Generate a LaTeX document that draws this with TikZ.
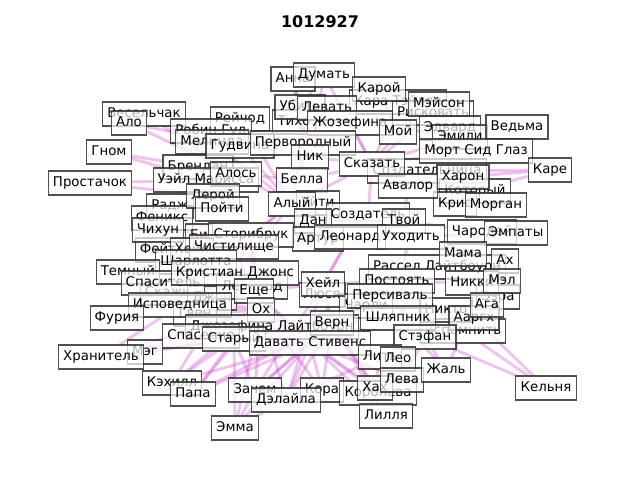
\documentclass[tikz,border=0pt]{standalone}
\usepackage{fontspec}
\setmainfont{DejaVu Sans}
\usetikzlibrary{backgrounds}
\definecolor{edgec}{RGB}{200,60,200}
\definecolor{boxc}{RGB}{50,50,50}
\begin{document}
\begin{tikzpicture}[x=0.75pt,y=-0.75pt,
  lbl/.style={draw=boxc,draw opacity=0.85,fill=white,fill opacity=0.7,text opacity=1,
    font=\fontsize{10}{12}\selectfont,inner xsep=3.5pt,inner ysep=4pt,
    text height=7.6pt,text depth=2.4pt,line width=0.8pt},
  edg/.style={draw=edgec,draw opacity=0.3,line width=2.2pt}]
\useasboundingbox (0,0) rectangle (640,480);
\node[font=\bfseries\fontsize{12}{14}\selectfont] (title) at (320,22) {1012927};
% ---- under layer ----
\node[lbl] (kara) at (398,102) {Кара Тэйлор};
\node[lbl] (risk) at (433,113) {Рисковать};
\node[lbl] (tiho) at (294,122) {Тихо};
\node[lbl] (edvard) at (450,128) {Эдвард};
\node[lbl] (sozd) at (427,171) {Создательница};
\node[lbl] (kotor) at (475,191) {Который};
\node[lbl] (kris) at (455,204) {Крис};
\node[lbl] (brendan) at (198,167) {Брендан};
\node[lbl] (radzh) at (170,206) {Радж};
\node[lbl] (feniks) at (162,218) {Феникс};
\node[lbl] (rassel) at (437,267) {Рассел Лайтбоурн};
\node[lbl] (lyusya) at (322,295) {Люся};
\node[lbl] (charli) at (366,306) {Чарли};
\node[lbl] (ezra) at (498,297) {Эзра};
\node[lbl] (vspom) at (463,331) {Вспомнить};
\node[lbl] (skazhi) at (168,293) {Скажи};
\node[lbl] (dzhon) at (212,298) {Джон};
\node[lbl] (leonard2) at (252,287) {Леонард};
\node[lbl] (gven) at (195,314) {Гвен};
\node[lbl] (kora) at (322,390) {Кора};
% ---- top layer ----
\node[lbl] (anna) at (293,79) {Анна};
\node[lbl] (dumat) at (324,75) {Думать};
\node[lbl] (karoy) at (379,89) {Карой};
\node[lbl] (meyson) at (439,104) {Мэйсон};
\node[lbl] (vesel) at (144,114) {Весельчак};
\node[lbl] (alo) at (129,123) {Ало};
\node[lbl] (reychod) at (240,119) {Рейчод};
\node[lbl] (ubit) at (300,107) {Убить};
\node[lbl] (levat) at (327,108) {Левать};
\node[lbl] (zhozefin) at (350,123) {Жозефина};
\node[lbl] (robin) at (211,131) {Робин Гуд};
\node[lbl] (mel) at (212,142) {Мелинда};
\node[lbl] (gudvina) at (240,146) {Гудвина};
\node[lbl] (pervo) at (303,143) {Первородный};
\node[lbl] (nik) at (310,157) {Ник};
\node[lbl] (moy) at (398,132) {Мой};
\node[lbl] (emili) at (460,137) {Эмили};
\node[lbl] (vedma) at (517,127) {Ведьма};
\node[lbl] (mort) at (476,151) {Морт Сид Глаз};
\node[lbl] (kare) at (550,170) {Каре};
\node[lbl] (skazat) at (372,164) {Сказать};
\node[lbl] (haron) at (463,177) {Харон};
\node[lbl] (avalor) at (408,186) {Авалор};
\node[lbl] (morgan) at (496,205) {Морган};
\node[lbl] (gnom) at (109,152) {Гном};
\node[lbl] (prostachok) at (90,183) {Простачок};
\node[lbl] (ueyl) at (206,180) {Уэйл Марисса};
\node[lbl] (bella) at (302,180) {Белла};
\node[lbl] (alos) at (236,174) {Алось};
\node[lbl] (leroy) at (213,196) {Лерой};
\node[lbl] (poyti) at (222,209) {Пойти};
\node[lbl] (uyti) at (318,203) {Уйти};
\node[lbl] (alyy) at (292,204) {Алый};
\node[lbl] (sozdat) at (368,215) {Создатель};
\node[lbl] (tvoy) at (404,221) {Твой};
\node[lbl] (dan) at (313,221) {Дан};
\node[lbl] (ar) at (318,239) {Артур};
\node[lbl] (leonar) at (350,237) {Леонард};
\node[lbl] (uhodit) at (411,237) {Уходить};
\node[lbl] (charo) at (482,232) {Чародей};
\node[lbl] (empaty) at (516,233) {Эмпаты};
\node[lbl] (mama) at (463,254) {Мама};
\node[lbl] (ah) at (505,261) {Ах};
\node[lbl] (nikki) at (472,283) {Никки};
\node[lbl] (melb) at (502,281) {Мэл};
\node[lbl] (ni) at (446,310) {Никто};
\node[lbl] (aargh) at (474,318) {Ааргх};
\node[lbl] (aga) at (487,305) {Ага};
\node[lbl] (postoyat) at (397,281) {Постоять};
\node[lbl] (persival) at (390,296) {Персиваль};
\node[lbl] (heyl2) at (323,284) {Хейл};
\node[lbl] (shlyapnik) at (398,318) {Шляпник};
\node[lbl] (feyt) at (158,250) {Фейт};
\node[lbl] (chihun) at (158,230) {Чихун};
\node[lbl] (bi) at (199,236) {Би};
\node[lbl] (storibruk) at (251,235) {Сторибрук};
\node[lbl] (heyl) at (192,250) {Хейл};
\node[lbl] (chistilishe) at (234,247) {Чистилище};
\node[lbl] (sharlotta) at (196,262) {Шарлотта};
\node[lbl] (temny) at (128,272) {Темный};
\node[lbl] (spasitel) at (163,283) {Спаситель};
\node[lbl] (kristian) at (235,273) {Кристиан Джонс};
\node[lbl] (esche) at (254,291) {Еще};
\node[lbl] (ispov) at (180,305) {Исповедница};
\node[lbl] (furiya) at (117,318) {Фурия};
\node[lbl] (oh) at (261,310) {Ох};
\node[lbl] (dzhoz) at (272,327) {Джозефина Лайтбоурн};
\node[lbl] (spa) at (201,336) {Спасение};
\node[lbl] (vern) at (332,323) {Верн};
\node[lbl] (stefan) at (425,337) {Стэфан};
\node[lbl] (stary) at (234,339) {Старый};
\node[lbl] (davat) at (310,343) {Давать Стивенс};
\node[lbl] (lit) at (380,357) {Лить};
\node[lbl] (leo) at (398,359) {Лео};
\node[lbl] (meg) at (145,352) {Мэг};
\node[lbl] (hranitel) at (101,357) {Хранитель};
\node[lbl] (kehill) at (172,383) {Кэхилл};
\node[lbl] (papa) at (193,394) {Папа};
\node[lbl] (zachem) at (255,390) {Зачем};
\node[lbl] (delayla) at (286,400) {Дэлайла};
\node[lbl] (koroleva) at (378,393) {Королева};
\node[lbl] (hah) at (375,388) {Хах};
\node[lbl] (leva) at (402,380) {Лева};
\node[lbl] (zhal) at (446,370) {Жаль};
\node[lbl] (lillya) at (386,416) {Лилля};
\node[lbl] (emma) at (235,428) {Эмма};
\node[lbl] (kelnya) at (546,388) {Кельня};
% ---- edges ----
\begin{pgfonlayer}{background}
\foreach \a/\b in {alo/gudvina,vesel/alos,gnom/ueyl,prostachok/leroy,hranitel/ispov,hranitel/spa,
  furiya/ispov,meg/stary,kehill/stary,kehill/davat,papa/stary,papa/davat,emma/zachem,emma/davat,
  zachem/davat,delayla/davat,delayla/vern,kora/davat,leva/stefan,hah/davat,lillya/lit,zhal/stefan,
  kelnya/vspom,kare/haron,kare/sozd,vedma/moy,vedma/mort,anna/pervo,anna/nik,dumat/skazat,dumat/ubit,
  karoy/moy,kara/skazat,levat/nik,reychod/gudvina,robin/alos,mel/alyy,temny/kristian,spasitel/kristian,
  chihun/storibruk,feyt/sharlotta,heyl/chistilishe,storibruk/alyy,storibruk/dan,alyy/skazat,
  skazat/sozdat,sozdat/tvoy,tvoy/uhodit,leonar/heyl2,uhodit/postoyat,postoyat/persival,persival/vern,
  vern/davat,davat/oh,oh/esche,esche/kristian,kristian/heyl2,heyl2/postoyat,mama/postoyat,ah/uhodit,
  melb/nikki,aga/ni,aargh/stefan,ni/shlyapnik,shlyapnik/davat,stefan/lit,lit/davat,charo/tvoy,
  empaty/uhodit,morgan/avalor,avalor/skazat,haron/avalor,mort/skazat,moy/zhozefin,zhozefin/nik,
  pervo/alyy,nik/bella,bella/alos,alos/leroy,leroy/poyti,poyti/storibruk,bi/chistilishe,
  sharlotta/storibruk,ispov/oh,spa/davat,stary/vern,dzhoz/vern,kristian/storibruk,dan/leonar,
  ar/leonar,meyson/zhozefin,vesel/gudvina,alo/alos,gnom/brendan,prostachok/ueyl,hranitel/stary,
  kehill/spa,papa/oh,zachem/vern,delayla/lit,emma/stary,leva/davat,zhal/vspom,kelnya/stefan,
  kare/kotor,lillya/davat,hah/vern,koroleva/davat,pervo/skazat,chistilishe/esche,bella/skazat,
  alyy/dan,dan/sozdat,uyti/sozdat,heyl2/esche,lyusya/vern,charli/persival,rassel/postoyat,
  mama/charo,ni/aargh,ezra/mama,sozd/skazat,edvard/moy,emili/skazat,tiho/nik,ubit/pervo,
  risk/skazat,karoy/levat,dumat/nik,anna/ubit,reychod/alyy,robin/gudvina,mel/gudvina,
  feniks/storibruk,radzh/poyti,spasitel/esche,skazhi/oh,dzhon/esche,gven/oh,temny/sharlotta,
  furiya/spasitel,meg/spa,stary/oh,leo/stefan,leonard2/esche,
  emma/delayla,emma/oh,zachem/oh,kehill/oh,papa/vern,koroleva/vern,kora/vern,delayla/heyl2,
  zachem/stary,hranitel/oh,kora/oh,delayla/oh,zachem/heyl2,lillya/vern,leva/vern,hah/lit,
  zhal/shlyapnik,kelnya/aargh,davat/esche,davat/kristian,vern/heyl2,vern/postoyat,
  heyl2/leonar,esche/storibruk,oh/storibruk,kristian/alyy,chistilishe/alyy,alyy/bella,
  bella/pervo,nik/skazat,alos/alyy,gudvina/alyy,gudvina/pervo,storibruk/leonar,dan/tvoy,
  leonar/uhodit,uhodit/mama,tvoy/avalor,avalor/haron,skazat/moy,zhozefin/skazat,
  persival/stefan,postoyat/nikki,shlyapnik/stefan,dzhoz/davat,spa/stary,ispov/kristian}{
  \draw[edg] (\a) -- (\b);
}
\end{pgfonlayer}
\end{tikzpicture}
\end{document}
